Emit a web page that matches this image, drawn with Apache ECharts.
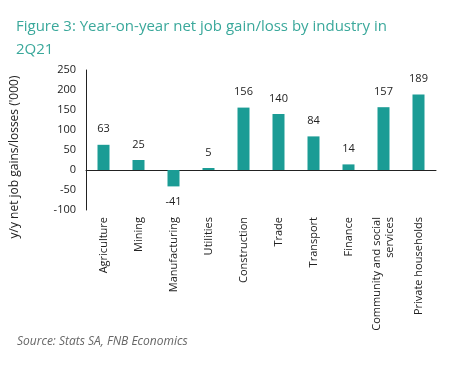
<!DOCTYPE html>
<html><head><meta charset="utf-8">
<script src="https://cdn.jsdelivr.net/npm/echarts@6/dist/echarts.min.js"></script>
<style>html,body{margin:0;padding:0;background:#fff}#c{width:454px;height:372px}</style>
</head><body><div id="c"></div>
<script>
var categories = ["Agriculture","Mining","Manufacturing","Utilities","Construction","Trade","Transport","Finance","Community and social\nservices","Private households"];
var values = [63,25,-41,5,156,140,84,14,157,189];
var yTicks = [-100,-50,0,50,100,150,200,250];
var yName = "y/y net job gains/losses ('000)";

var chart = echarts.init(document.getElementById('c'));
chart.setOption({
  animation:false,
  title:[{
    text:"Figure 3: Year-on-year net job gain/loss by industry in\n2Q21",
    left:11, top:10,
    textStyle:{color:"#3aa89b", fontSize:15, fontWeight:"normal", fontFamily:"Open Sans", lineHeight:23}
  },{
    text:"Source: Stats SA, FNB Economics",
    left:12, top:331,
    textStyle:{color:"#666", fontSize:12, fontStyle:"italic", fontWeight:"normal", fontFamily:"Open Sans"}
  }],
  graphic:[{
    type:"text", x:15, y:157, rotation:Math.PI/2,
    style:{text:yName, fill:"#222", font:"12px 'Open Sans'", align:"center", verticalAlign:"middle"}
  }],
  grid:{left:86, right:18, top:70, bottom:162},
  xAxis:[{
    type:"category", data:categories,
    axisLine:{show:true, onZero:true, lineStyle:{color:"#222", width:1}},
    axisTick:{show:false}, axisLabel:{show:false}
  },{
    type:"category", data:categories, position:"bottom",
    axisLine:{show:false, onZero:false}, axisTick:{show:false},
    axisLabel:{rotate:90, color:"#222", fontSize:11, fontFamily:"Open Sans", margin:7, interval:0, lineHeight:13}
  }],
  yAxis:{
    type:"value", min:yTicks[0], max:yTicks[yTicks.length-1], interval:50,
    axisLine:{show:true, lineStyle:{color:"#222"}}, axisTick:{show:false},
    splitLine:{show:false},
    axisLabel:{color:"#222", fontSize:11, fontFamily:"Open Sans", margin:10}
  },
  series:[{
    type:"bar", xAxisIndex:0, barWidth:12,
    data:values.map(function(v){
      return v<0 ? {value:v, label:{position:"bottom", distance:10}} : v;
    }),
    itemStyle:{color:"#1b9c95"},
    label:{show:true, position:"top", distance:10, color:"#222", fontSize:11, fontFamily:"Open Sans"}
  }]
});
</script></body></html>
